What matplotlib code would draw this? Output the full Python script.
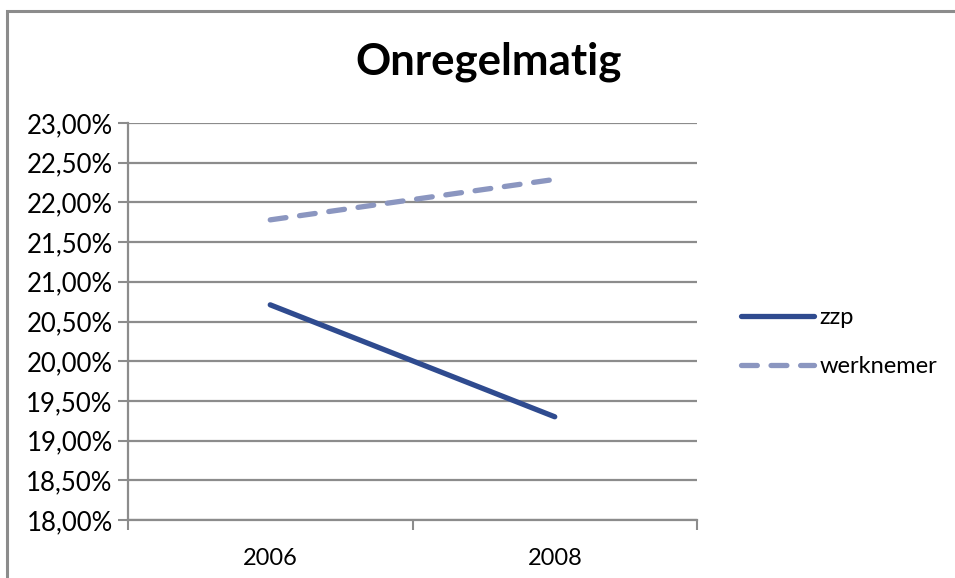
import matplotlib
matplotlib.use("Agg")
import matplotlib.pyplot as plt
from matplotlib.patches import Rectangle
from matplotlib.ticker import FuncFormatter, FixedLocator

years = ["2006", "2008"]
zzp = [20.71, 19.30]
werknemer = [21.78, 22.29]
title = "Onregelmatig"
yticks = [18.0, 18.5, 19.0, 19.5, 20.0, 20.5, 21.0, 21.5, 22.0, 22.5, 23.0]

plt.rcParams['font.family'] = ['Lato', 'DejaVu Sans']

W, H = 955, 578
fig = plt.figure(figsize=(W / 100, H / 100), dpi=100)
ax = fig.add_axes([128 / W, 1 - 520 / H, (697 - 128) / W, (520 - 123) / H])

# figure border
fig.patches.append(Rectangle((7 / W, -0.1), 1.2, 1 - 11 / H + 0.1, transform=fig.transFigure,
                             fill=False, edgecolor='#8c8c8c', linewidth=2.2, zorder=0))

x = list(range(len(years)))
ax.plot(x, zzp, color='#2f4b8f', linewidth=3.8, solid_capstyle='round', label='zzp', zorder=3)
ax.plot(x, werknemer, color='#8b96c0', linewidth=3.8, linestyle=(0, (3.0, 2.6)),
        dash_capstyle='round', label='werknemer', zorder=3)

ax.set_xlim(-0.5, len(years) - 0.5)
ax.set_ylim(18.0, 23.0)
ax.yaxis.set_major_locator(FixedLocator(yticks))
ax.yaxis.set_major_formatter(FuncFormatter(lambda v, p: f"{v:.2f}".replace('.', ',') + '%'))
ax.grid(axis='y', color='#8c8c8c', linewidth=1.6, zorder=1)
ax.set_axisbelow(True)

ax.set_xticks(x)
ax.set_xticklabels(years)
ax.set_xticks([i - 0.5 for i in range(len(years) + 1)], minor=True)
ax.tick_params(axis='x', which='major', length=0, pad=20, labelsize=17)
ax.tick_params(axis='x', which='minor', length=7, width=1.5, color='#8c8c8c', direction='out')
ax.tick_params(axis='y', which='major', length=7, width=1.5, color='#8c8c8c', labelsize=18.5, pad=4)

for s in ['top', 'right']:
    ax.spines[s].set_visible(False)
for s in ['left', 'bottom']:
    ax.spines[s].set_color('#8c8c8c')
    ax.spines[s].set_linewidth(1.6)

fig.text(489 / W, 1 - 62 / H, title, ha='center', va='center', fontsize=31.5, fontweight='bold')

leg = fig.legend(loc='center left', bbox_to_anchor=(720 / W, 1 - 342 / H), frameon=False,
                 fontsize=17, handlelength=3.1, handletextpad=0.2, labelspacing=1.2)

fig.savefig('out.png', dpi=100)
